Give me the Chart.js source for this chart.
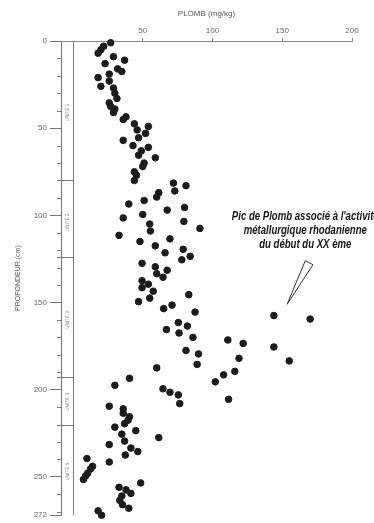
<!DOCTYPE html>
<html lang="fr">
<head>
<meta charset="utf-8">
<title>Plomb - profondeur</title>
<script src="https://cdn.jsdelivr.net/npm/chart.js@4.4.1/dist/chart.umd.min.js"></script>
<style>
    html, body { margin: 0; padding: 0; background: #fff; }
    #wrap { width: 374px; height: 523px; position: relative; }
</style>
</head>
<body>
<div id="wrap"><canvas id="plombChart"></canvas></div>
<script>
// Données
const plomb = [27, 22, 20, 18, 29, 37, 23, 32, 35, 26,
    18, 26, 20, 29, 30, 31.5, 26, 27, 30, 29,
    38, 36, 44, 54, 46, 52, 47, 36, 43, 54,
    49, 47, 59, 51, 50, 44, 45.5, 44, 72, 81,
    73, 61.5, 60, 51, 40, 80, 67.5, 50, 36, 79.5,
    55, 55.5, 91, 33, 69.5, 48, 59, 79, 66, 84,
    78, 49.5, 59, 67.5, 60, 64.5, 49.5, 54, 49.5, 57.5,
    83, 55, 47, 71, 65, 87.5, 144, 170, 75.5, 82,
    67, 76, 86, 111, 122, 144, 81, 90, 119, 155,
    89, 60, 116, 108, 40.5, 102, 30, 64.5, 69.5, 75.5,
    111.5, 76.5, 26, 36, 36, 40.5, 39.5, 37, 30, 45,
    35, 61.5, 37, 26, 41.5, 46.5, 37.5, 10, 26, 14,
    12.5, 10.5, 9, 7.5, 48.5, 33, 38, 41.5, 35, 33.5,
    35.5, 40, 18, 20.5];

const profondeur = [1, 3, 5, 7, 9, 11, 13, 16, 17.5, 19,
    21, 23, 26, 27, 30, 33, 35.5, 37.5, 39, 41,
    43.5, 45, 47.5, 49, 51, 53, 55.5, 57, 60, 61,
    63, 65.5, 67, 70, 72, 75, 77, 80, 81.5, 83,
    86, 87, 89.5, 91.5, 93.5, 95.5, 97, 99.5, 101.5, 103.5,
    105, 109, 107.5, 111.5, 113.5, 115, 117.5, 119.5, 121.5, 123.5,
    125.5, 127.5, 129.5, 131.5, 133.5, 135.5, 137.5, 139.5, 141.5, 143.5,
    145.5, 147.5, 149.5, 151.5, 153.5, 155.5, 157.5, 159.5, 161.5, 163.5,
    165.5, 167.5, 170, 171.5, 173.5, 175.5, 177.5, 179.5, 182, 183.5,
    185.5, 187.5, 189.5, 191.5, 193.5, 195.5, 197.5, 199.5, 201.5, 203,
    205.5, 208, 209.5, 211, 213.5, 215.5, 217.5, 219.5, 221.5, 223.5,
    225.5, 227.5, 229.5, 231.5, 233.5, 235.5, 237.5, 239.5, 241.5, 244,
    245.5, 248, 249.5, 251.5, 253.5, 256, 257.5, 259.5, 261, 263.5,
    266, 268, 269.5, 272];

// Graduations
const ticksX = [50, 100, 150, 200];
const ticksY = [0, 50, 100, 150, 200, 250, 272];
const ticksMineursY = [10, 20, 30, 40, 60, 70, 80, 90, 110, 120, 130, 140, 160, 170, 180, 190, 210, 220, 230, 240, 260, 270];

// Colonne stratigraphique (limites en cm) et étiquettes
const limitesUnites = [80, 124, 192.5, 220.5];
const centresUnites = [41, 104, 160, 207, 247];
const nomsUnites = ['UNITÉ 1', 'UNITÉ 2', 'UNITÉ 3', 'UNITÉ 4', 'UNITÉ 5'];

// Annotation du pic
const texteAnnotation = ["Pic de Plomb associé à l'activité", 'métallurgique rhodanienne', 'du début du XX ème'];
const posAnnotation = [166.5, 101, 8]; // x, y de la première ligne, pas en cm
const fleche = [[153.5, 151], [166.5, 126], [172, 128.3]];

// Dessin de la colonne, des petites graduations et de l'annotation
const decor = {
    id: 'decor',
    afterDraw(chart) {
        const ctx = chart.ctx;
        const x = chart.scales.x;
        const y = chart.scales.y;
        const gauche = chart.chartArea.left;
        const x0 = x.getPixelForValue(0);

        ctx.save();
        ctx.strokeStyle = '#777';
        ctx.lineWidth = 1;

        // bord droit de la colonne
        ctx.beginPath();
        ctx.moveTo(x0 + 0.5, y.getPixelForValue(0));
        ctx.lineTo(x0 + 0.5, y.getPixelForValue(272));
        ctx.stroke();

        // limites des unités
        limitesUnites.forEach(function(p) {
            const py = Math.round(y.getPixelForValue(p)) + 0.5;
            ctx.beginPath();
            ctx.moveTo(gauche - 4, py);
            ctx.lineTo(x0 + 1, py);
            ctx.stroke();
        });

        // petites graduations
        ticksMineursY.forEach(function(p) {
            const py = Math.round(y.getPixelForValue(p)) + 0.5;
            ctx.beginPath();
            ctx.moveTo(gauche - 4, py);
            ctx.lineTo(gauche, py);
            ctx.stroke();
        });

        // étiquettes des unités
        ctx.fillStyle = '#888';
        ctx.font = '5px "Liberation Sans Narrow", "DejaVu Sans Condensed", sans-serif';
        ctx.textAlign = 'center';
        ctx.textBaseline = 'middle';
        centresUnites.forEach(function(p, i) {
            ctx.save();
            ctx.translate((gauche + x0) / 2 + 0.5, y.getPixelForValue(p));
            ctx.rotate(-Math.PI / 2);
            ctx.fillText(nomsUnites[i], 0, 0);
            ctx.restore();
        });

        // texte de l'annotation (écrasé horizontalement)
        ctx.fillStyle = '#151515';
        ctx.font = 'italic bold 12px "Liberation Sans", sans-serif';
        const tx = x.getPixelForValue(posAnnotation[0]);
        texteAnnotation.forEach(function(ligne, i) {
            const ty = y.getPixelForValue(posAnnotation[1] + i * posAnnotation[2]);
            ctx.save();
            ctx.translate(tx, ty);
            ctx.scale(0.8, 1);
            ctx.fillText(ligne, 0, 0);
            ctx.restore();
        });

        // flèche (triangle ouvert)
        ctx.strokeStyle = '#333';
        ctx.fillStyle = '#fff';
        ctx.beginPath();
        fleche.forEach(function(pt, i) {
            const px = x.getPixelForValue(pt[0]);
            const py = y.getPixelForValue(pt[1]);
            if (i === 0) ctx.moveTo(px, py); else ctx.lineTo(px, py);
        });
        ctx.closePath();
        ctx.fill();
        ctx.stroke();

        ctx.restore();
    }
};

const points = plomb.map(function(v, i) {
    return { x: v, y: profondeur[i] };
});

const ctx = document.getElementById('plombChart').getContext('2d');
const plombChart = new Chart(ctx, {
    type: 'scatter',
    data: {
        datasets: [{
            label: 'Plomb',
            data: points,
            backgroundColor: '#1c1c1c',
            borderColor: '#1c1c1c',
            pointRadius: 3.3,
            pointHoverRadius: 3.3,
            clip: false
        }]
    },
    options: {
        responsive: true,
        maintainAspectRatio: false,
        animation: false,
        events: [],
        layout: {
            padding: { top: 0, right: 22, bottom: 6, left: 0 }
        },
        plugins: {
            legend: { display: false },
            tooltip: { enabled: false }
        },
        scales: {
            x: {
                type: 'linear',
                position: 'top',
                min: -8.6,
                max: 200,
                afterBuildTicks: function(scale) {
                    scale.ticks = ticksX.map(function(v) { return { value: v }; });
                },
                afterFit: function(scale) { scale.height = 41; },
                grid: { display: true, drawOnChartArea: false, tickLength: 3, color: '#888' },
                border: { display: true, color: '#888', width: 1 },
                ticks: {
                    color: '#666',
                    padding: 2,
                    maxRotation: 0,
                    font: { family: 'Liberation Sans Narrow, Liberation Sans, sans-serif', size: 8 }
                },
                title: {
                    display: true,
                    text: 'PLOMB (mg/kg)',
                    color: '#555',
                    padding: { top: 9, bottom: 0 },
                    font: { family: 'Liberation Sans Narrow, Liberation Sans, sans-serif', size: 8 }
                }
            },
            y: {
                type: 'linear',
                position: 'left',
                reverse: true,
                min: 0,
                max: 272,
                afterBuildTicks: function(scale) {
                    scale.ticks = ticksY.map(function(v) { return { value: v }; });
                },
                afterFit: function(scale) { scale.width = 61; },
                grid: { display: true, drawOnChartArea: false, tickLength: 11, color: '#777' },
                border: { display: true, color: '#777', width: 1 },
                ticks: {
                    color: '#666',
                    padding: 3,
                    font: { family: 'Liberation Sans Narrow, Liberation Sans, sans-serif', size: 8 }
                },
                title: {
                    display: true,
                    text: 'PROFONDEUR (cm)',
                    color: '#555',
                    padding: { top: 14, bottom: 0 },
                    font: { family: 'Liberation Sans Narrow, Liberation Sans, sans-serif', size: 7 }
                }
            }
        }
    },
    plugins: [decor]
});
</script>
</body>
</html>
